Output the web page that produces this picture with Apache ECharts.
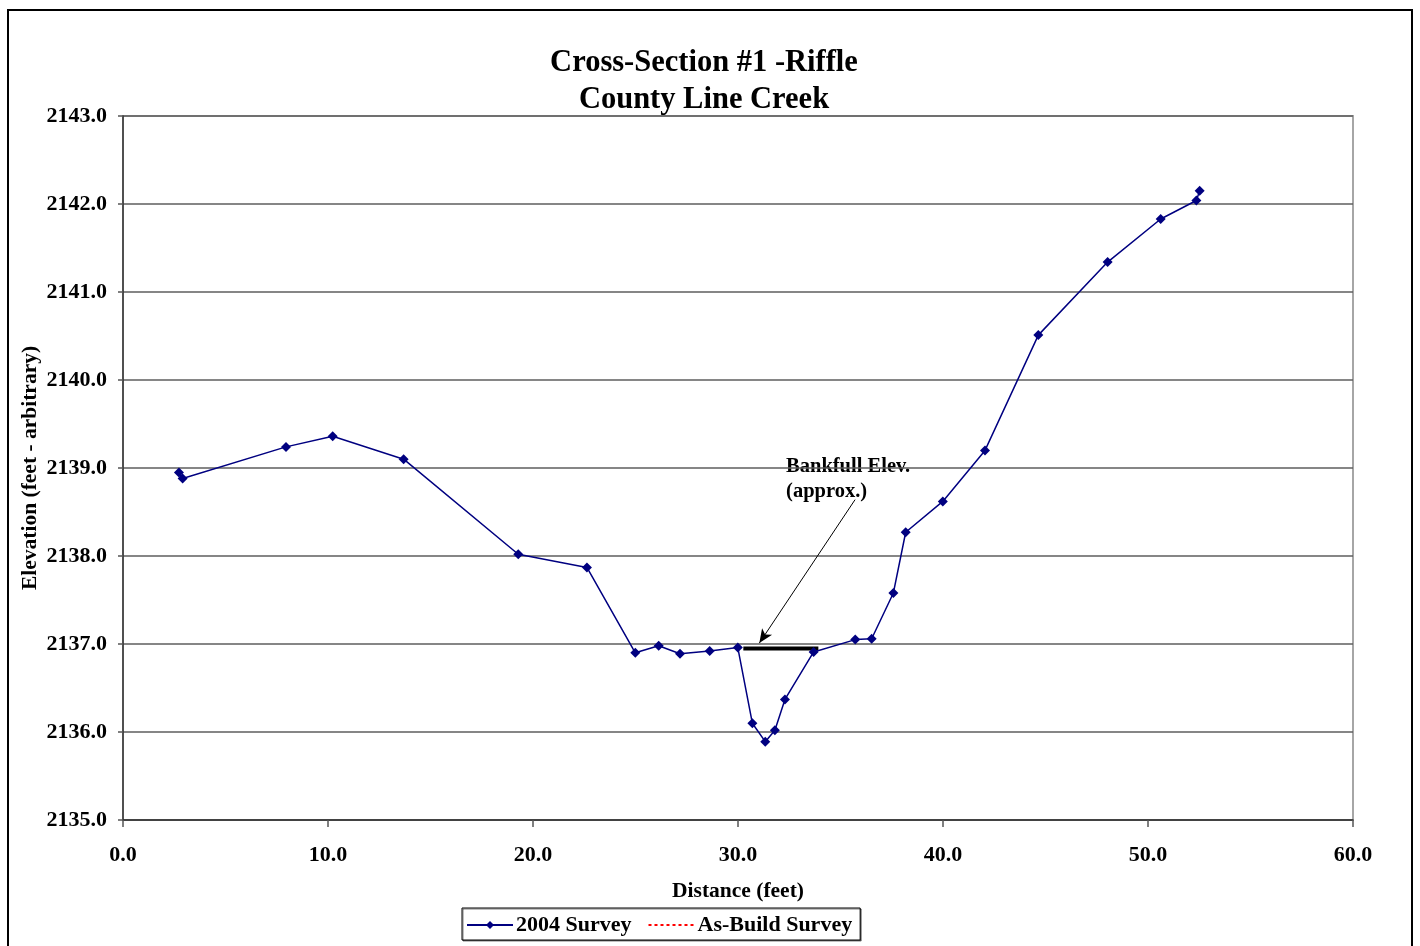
<!DOCTYPE html>
<html>
<head>
<meta charset="utf-8">
<title>Cross-Section #1 - Riffle, County Line Creek</title>
<script src="https://cdn.jsdelivr.net/npm/echarts@6/dist/echarts.min.js"></script>
<style>
  html, body { margin: 0; padding: 0; background: #ffffff; }
  #chart { width: 1420px; height: 946px; }
</style>
</head>
<body>
<div id="chart"></div>
<script>
// Survey stations: distance across the section (feet) and elevation (feet, arbitrary datum)
const distance2004 = [2.73, 2.91, 7.95, 10.23, 13.69, 19.28, 22.63, 24.99, 26.13, 27.17,
  28.62, 29.99, 30.70, 31.33, 31.80, 32.29, 33.69, 35.72, 36.52, 37.58,
  38.18, 39.99, 42.05, 44.65, 48.03, 50.62, 52.36, 52.52];
const elevation2004 = [2138.95, 2138.88, 2139.24, 2139.36, 2139.10, 2138.02, 2137.87, 2136.90, 2136.98, 2136.89,
  2136.92, 2136.96, 2136.10, 2135.89, 2136.02, 2136.37, 2136.91, 2137.05, 2137.06, 2137.58,
  2138.27, 2138.62, 2139.20, 2140.51, 2141.34, 2141.83, 2142.04, 2142.15];

// As-built survey (no stations recorded)
const distanceAsBuilt = [];
const elevationAsBuilt = [];

// Approximate bankfull elevation segment and its callout
const bankfullDistance = [30.26, 33.92];
const bankfullElevation = 2136.95;
const calloutFrom = [35.71, 2138.64];
const calloutTo = [31.04, 2137.01];
const calloutText = 'Bankfull Elev.\n(approx.)';

// Axis ticks
const xTicks = { min: 0, max: 60, step: 10 };
const yTicks = { min: 2135, max: 2143, step: 1 };

const titleText = 'Cross-Section #1 -Riffle\nCounty Line Creek';
const xName = 'Distance (feet)';
const yName = 'Elevation (feet - arbitrary)';

const FONT = '"Liberation Serif", "Times New Roman", serif';

const pairs = (xs, ys) => xs.map((x, i) => [x, ys[i]]);

const chart = echarts.init(document.getElementById('chart'), null, { renderer: 'canvas' });

const frameAndTitle = [
  {
    type: 'rect',
    shape: { x: 8, y: 10, width: 1404, height: 950 },
    style: { fill: 'none', stroke: '#000000', lineWidth: 2 },
    silent: true, z: -1
  },
  {
    type: 'text',
    x: 704, y: 45,
    style: {
      text: titleText,
      fontFamily: FONT, fontWeight: 'bold', fontSize: 30.5, lineHeight: 37,
      fill: '#000000', align: 'center', verticalAlign: 'top'
    }
  }
];

const option = {
  backgroundColor: '#ffffff',
  animation: false,
  textStyle: { fontFamily: FONT },
  grid: {
    left: 123, top: 116, width: 1230, height: 704,
    show: true, borderColor: '#a6a6a6', borderWidth: 2, backgroundColor: 'transparent'
  },
  legend: {
    left: 462, top: 908,
    padding: [6, 8, 4, 4],
    itemGap: 16,
    itemWidth: 46, itemHeight: 10,
    borderColor: '#000000', borderWidth: 1,
    shadowColor: 'rgba(0,0,0,0.5)', shadowOffsetX: 1, shadowOffsetY: 1,
    backgroundColor: '#ffffff',
    textStyle: { fontFamily: FONT, fontWeight: 'bold', fontSize: 22, color: '#000000', padding: [0, 0, 0, -2] },
    data: [
      { name: '2004 Survey' },
      { name: 'As-Build Survey', itemStyle: { opacity: 0 } }
    ]
  },
  xAxis: {
    type: 'value',
    min: xTicks.min, max: xTicks.max, interval: xTicks.step,
    name: xName, nameLocation: 'middle', nameGap: 60,
    nameTextStyle: { fontFamily: FONT, fontWeight: 'bold', fontSize: 21.5, color: '#000000' },
    axisLine: { show: true, onZero: false, lineStyle: { color: '#333333', width: 1.5 } },
    axisTick: { show: true, inside: false, length: 7, lineStyle: { color: '#555555', width: 1.5 } },
    axisLabel: {
      margin: 24, fontFamily: FONT, fontWeight: 'bold', fontSize: 22, color: '#000000',
      formatter: v => v.toFixed(1)
    },
    splitLine: { show: false }
  },
  yAxis: {
    type: 'value',
    min: yTicks.min, max: yTicks.max, interval: yTicks.step,
    name: yName, nameLocation: 'middle', nameGap: 82, nameRotate: 90,
    nameMoveOverlap: false,
    nameTextStyle: { fontFamily: FONT, fontWeight: 'bold', fontSize: 21.5, color: '#000000' },
    axisLine: { show: true, onZero: false, lineStyle: { color: '#333333', width: 1.5 } },
    axisTick: { show: true, inside: false, length: 5, lineStyle: { color: '#555555', width: 1.5 } },
    axisLabel: {
      margin: 16, fontFamily: FONT, fontWeight: 'bold', fontSize: 22, color: '#000000',
      padding: [3, 0, 0, 0],
      formatter: v => v.toFixed(1)
    },
    splitLine: { show: true, lineStyle: { color: '#5e5e5e', width: 1.5 } }
  },
  series: [
    {
      name: '2004 Survey',
      type: 'line',
      data: pairs(distance2004, elevation2004),
      symbol: 'diamond', symbolSize: 10,
      itemStyle: { color: '#000080' },
      lineStyle: { color: '#000080', width: 1.5 },
      z: 5
    },
    {
      name: 'As-Build Survey',
      type: 'line',
      data: pairs(distanceAsBuilt, elevationAsBuilt),
      symbol: 'none',
      itemStyle: { color: '#ff0000' },
      lineStyle: { color: '#ff0000', width: 2, type: [3, 3] }
    },
    {
      name: 'Bankfull',
      type: 'line',
      data: bankfullDistance.map(x => [x, bankfullElevation]),
      symbol: 'none',
      lineStyle: { color: '#000000', width: 4 },
      z: 4,
      markLine: {
        silent: true,
        symbol: ['none', 'arrow'],
        symbolSize: [9, 14],
        label: { show: false },
        lineStyle: { color: '#000000', width: 1, type: 'solid' },
        data: [[{ coord: calloutFrom }, { coord: calloutTo }]]
      }
    }
  ],
  graphic: frameAndTitle
};

chart.setOption(option);

// Callout text sits just above the start of the arrow
const anchor = chart.convertToPixel({ gridIndex: 0 }, calloutFrom);
chart.setOption({
  graphic: frameAndTitle.concat([
    {
      type: 'text',
      x: anchor[0] - 69, y: anchor[1] - 45,
      style: {
        text: calloutText,
        fontFamily: FONT, fontWeight: 'bold', fontSize: 20.5, lineHeight: 25,
        fill: '#000000', align: 'left', verticalAlign: 'top'
      }
    }
  ])
});
</script>
</body>
</html>
